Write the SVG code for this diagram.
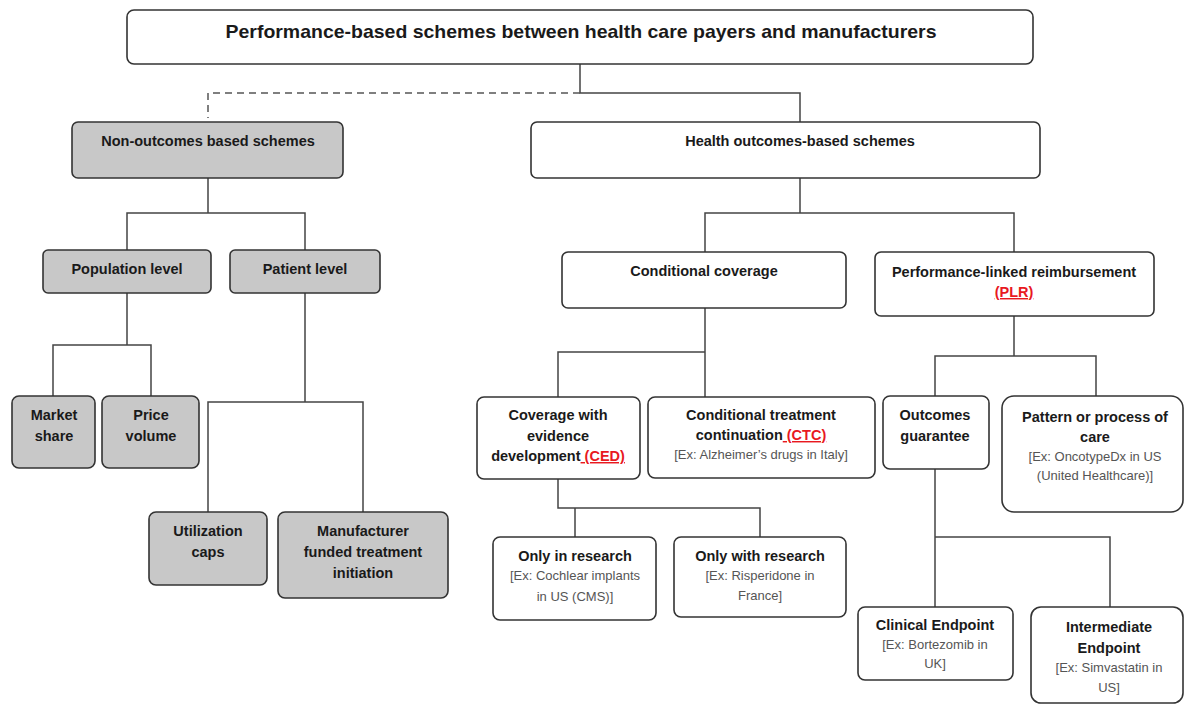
<svg xmlns="http://www.w3.org/2000/svg" width="1184" height="704" viewBox="0 0 1184 704">
<style>
.box{fill:#fff;stroke:#333;stroke-width:1.6}
.gray{fill:#c8c8c8;stroke:#333;stroke-width:1.6}
.t{font-family:"Liberation Sans",Arial,sans-serif;font-weight:bold;font-size:14.5px;fill:#1a1a1a;text-anchor:middle}
.title{font-size:19px}
.s{font-family:"Liberation Sans",Arial,sans-serif;font-size:13px;fill:#555;text-anchor:middle}
.red{fill:#e8191f;text-decoration:underline}
.ln{fill:none;stroke:#444;stroke-width:1.5}
.dash{fill:none;stroke:#555;stroke-width:1.5;stroke-dasharray:7 5}
</style>
<rect width="1184" height="704" fill="#fff"/>
<g id="connectors">
<path class="ln" d="M580,64V93H800V122"/>
<path class="dash" d="M580,93H208V118"/>
<path class="ln" d="M208,178V213M127,250V213H305V250"/>
<path class="ln" d="M127,293V345H53V396M127,345H151V396"/>
<path class="ln" d="M305,293V402M208,512V402H363V512"/>
<path class="ln" d="M800,178V213M705,252V213H1014V252"/>
<path class="ln" d="M705,308V397M558,397V352H705"/>
<path class="ln" d="M558,479V508H760V537M575,508V537"/>
<path class="ln" d="M1014,316V356M935,396V356H1096V396"/>
<path class="ln" d="M935,469V607M935,537H1110V607"/>
</g>
<g id="title"><rect class="box" x="127" y="10" width="906" height="54" rx="7"/>
<text class="t title" x="581" y="38" textLength="711" lengthAdjust="spacingAndGlyphs">Performance-based schemes between health care payers and manufacturers</text></g>
<g id="non-outcomes"><rect class="gray" x="72" y="122" width="271" height="56" rx="6"/>
<text class="t" x="208" y="146">Non-outcomes based schemes</text></g>
<g id="health-outcomes"><rect class="box" x="531" y="122" width="509" height="56" rx="6"/>
<text class="t" x="800" y="146">Health outcomes-based schemes</text></g>
<g id="population"><rect class="gray" x="43" y="250" width="168" height="43" rx="5"/>
<text class="t" x="127" y="274">Population level</text></g>
<g id="patient"><rect class="gray" x="230" y="250" width="150" height="43" rx="5"/>
<text class="t" x="305" y="274">Patient level</text></g>
<g id="market-share"><rect class="gray" x="12" y="396" width="83" height="72" rx="7"/>
<text class="t" x="54" y="420">Market</text><text class="t" x="54" y="441">share</text></g>
<g id="price-volume"><rect class="gray" x="102" y="396" width="97" height="72" rx="7"/>
<text class="t" x="151" y="420">Price</text><text class="t" x="151" y="441">volume</text></g>
<g id="utilization"><rect class="gray" x="149" y="512" width="118" height="73" rx="7"/>
<text class="t" x="208" y="536">Utilization</text><text class="t" x="208" y="557">caps</text></g>
<g id="manufacturer"><rect class="gray" x="278" y="512" width="170" height="86" rx="7"/>
<text class="t" x="363" y="536">Manufacturer</text><text class="t" x="363" y="557">funded treatment</text><text class="t" x="363" y="578">initiation</text></g>
<g id="conditional-coverage"><rect class="box" x="562" y="252" width="284" height="56" rx="6"/>
<text class="t" x="704" y="276">Conditional coverage</text></g>
<g id="plr"><rect class="box" x="875" y="252" width="279" height="64" rx="6"/>
<text class="t" x="1014" y="277">Performance-linked reimbursement</text>
<text class="t" x="1014" y="297"><tspan class="red">(PLR)</tspan></text></g>
<g id="ced"><rect class="box" x="477" y="397" width="163" height="82" rx="7"/>
<text class="t" x="558" y="420">Coverage with</text><text class="t" x="558" y="441">evidence</text>
<text class="t" x="558" y="461">development<tspan class="red"> (CED)</tspan></text></g>
<g id="ctc"><rect class="box" x="648" y="397" width="227" height="81" rx="7"/>
<text class="t" x="761" y="420">Conditional treatment</text>
<text class="t" x="761" y="440">continuation<tspan class="red"> (CTC)</tspan></text>
<text class="s" x="761" y="459">[Ex: Alzheimer’s drugs in Italy]</text></g>
<g id="only-in-research"><rect class="box" x="493" y="537" width="163" height="83" rx="7"/>
<text class="t" x="575" y="561">Only in research</text>
<text class="s" x="575" y="580">[Ex: Cochlear implants</text><text class="s" x="575" y="601">in US (CMS)]</text></g>
<g id="only-with-research"><rect class="box" x="674" y="537" width="172" height="80" rx="7"/>
<text class="t" x="760" y="561">Only with research</text>
<text class="s" x="760" y="580">[Ex: Risperidone in</text><text class="s" x="760" y="600">France]</text></g>
<g id="outcomes-guarantee"><rect class="box" x="883" y="396" width="106" height="73" rx="7"/>
<text class="t" x="935" y="420">Outcomes</text><text class="t" x="935" y="441">guarantee</text></g>
<g id="pattern"><rect class="box" x="1002" y="396" width="181" height="116" rx="12"/>
<text class="t" x="1095" y="422">Pattern or process of</text><text class="t" x="1095" y="442">care</text>
<text class="s" x="1095" y="461">[Ex: OncotypeDx in US</text><text class="s" x="1095" y="480">(United Healthcare)]</text></g>
<g id="clinical-endpoint"><rect class="box" x="858" y="607" width="155" height="73" rx="7"/>
<text class="t" x="935" y="630">Clinical Endpoint</text>
<text class="s" x="935" y="649">[Ex: Bortezomib in</text><text class="s" x="935" y="668">UK]</text></g>
<g id="intermediate-endpoint"><rect class="box" x="1031" y="607" width="152" height="96" rx="10"/>
<text class="t" x="1109" y="632">Intermediate</text><text class="t" x="1109" y="653">Endpoint</text>
<text class="s" x="1109" y="672">[Ex: Simvastatin in</text><text class="s" x="1109" y="692">US]</text></g>
</svg>
